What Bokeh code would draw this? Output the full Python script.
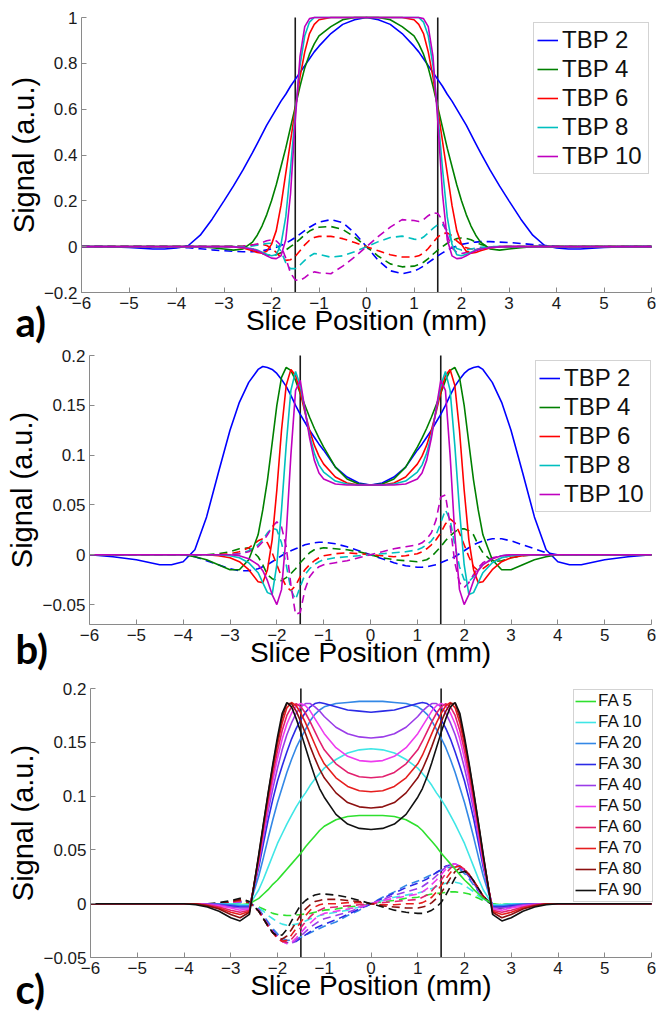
from bokeh.plotting import figure
from bokeh.models import Legend, LegendItem, FixedTicker, Label, Range1d
from bokeh.layouts import column
from bokeh.embed import file_html
from bokeh.resources import INLINE

# ---------------- data ----------------
slice_pos = [-6, -5.5, -5, -4.5, -4.25, -4, -3.75, -3.5, -3.25, -3, -2.8, -2.6, -2.4, -2.3, -2.2, -2.1, -2, -1.9, -1.8, -1.7,
             -1.6, -1.5, -1.4, -1.3, -1.2, -1.1, -1, -0.75, -0.5, -0.25,
             0,
             0.25, 0.5, 0.75, 1, 1.1, 1.2, 1.3, 1.4, 1.5, 1.6, 1.7, 1.8, 1.9, 2, 2.1, 2.2, 2.3, 2.4, 2.6,
             2.8, 3, 3.25, 3.5, 3.75, 4, 4.25, 4.5, 5, 5.5, 6]

x_ticks = [-6, -5, -4, -3, -2, -1, 0, 1, 2, 3, 4, 5, 6]
x_tick_labels = ["\u22126", "\u22125", "\u22124", "\u22123", "\u22122", "\u22121", "0", "1", "2", "3", "4", "5", "6"]
a_y_ticks = [-0.2, 0, 0.2, 0.4, 0.6, 0.8, 1]
a_y_tick_labels = ["\u22120.2", "0", "0.2", "0.4", "0.6", "0.8", "1"]
bc_y_ticks = [-0.05, 0, 0.05, 0.1, 0.15, 0.2]
bc_y_tick_labels = ["\u22120.05", "0", "0.05", "0.1", "0.15", "0.2"]
a_y_limits = [-0.2, 1.0]
b_y_limits = [-0.07, 0.2]
c_y_limits = [-0.05, 0.2]
slab_edges = [-1.5, 1.5]

tbp_names = ["TBP 2", "TBP 4", "TBP 6", "TBP 8", "TBP 10"]
fa_names = ["FA 5", "FA 10", "FA 20", "FA 30", "FA 40", "FA 50", "FA 60", "FA 70", "FA 80", "FA 90"]
panel_names = ["a)", "b)", "c)"]

# panel a : solid (real) and dashed (imaginary)
a_re_tbp2 = [0, 0, -0.003, -0.01, -0.01, -0.006, 0.005, 0.05, 0.12, 0.2, 0.265, 0.335, 0.41, 0.45, 0.49, 0.53, 0.565, 0.60, 0.635, 0.665, 0.70, 0.73, 0.76, 0.79, 0.82, 0.85, 0.875, 0.93, 0.97, 0.99,
             1.0,
             0.99, 0.97, 0.93, 0.875, 0.85, 0.82, 0.79, 0.76, 0.73, 0.70, 0.665, 0.635, 0.60, 0.565, 0.53, 0.49, 0.45, 0.41, 0.335, 0.265, 0.2, 0.12, 0.05, 0.005, -0.006, -0.01, -0.01, -0.003, 0, 0]
a_re_tbp4 = [0, 0, 0, 0, 0, 0, 0, 0, -0.005, -0.01, -0.015, -0.01, 0.02, 0.05, 0.09, 0.14, 0.2, 0.27, 0.35, 0.43, 0.52, 0.61, 0.70, 0.78, 0.84, 0.885, 0.92, 0.96, 0.99, 1.0,
             1.0,
             1.0, 0.99, 0.96, 0.92, 0.885, 0.84, 0.78, 0.70, 0.61, 0.52, 0.43, 0.35, 0.27, 0.2, 0.14, 0.09, 0.05, 0.02, -0.01, -0.015, -0.01, -0.005, 0, 0, 0, 0, 0, 0, 0, 0]
a_re_tbp6 = [0, 0, 0, 0, 0, 0, 0, 0, 0, 0, 0, -0.006, -0.018, -0.025, -0.028, -0.02, 0.01, 0.07, 0.18, 0.32, 0.46, 0.6, 0.74, 0.85, 0.93, 0.97, 0.99, 1.0, 1.0, 1.0,
             1.0,
             1.0, 1.0, 1.0, 0.99, 0.97, 0.93, 0.85, 0.74, 0.6, 0.46, 0.32, 0.18, 0.07, 0.01, -0.02, -0.028, -0.025, -0.018, -0.006, 0, 0, 0, 0, 0, 0, 0, 0, 0, 0, 0]
a_re_tbp8 = [0, 0, 0, 0, 0, 0, 0, 0, 0, 0, 0, -0.003, -0.009, -0.015, -0.024, -0.033, -0.04, -0.035, 0.01, 0.13, 0.34, 0.58, 0.79, 0.92, 0.98, 1.0, 1.0, 1.0, 1.0, 1.0,
             1.0,
             1.0, 1.0, 1.0, 1.0, 1.0, 0.98, 0.92, 0.79, 0.58, 0.34, 0.13, 0.01, -0.035, -0.04, -0.033, -0.024, -0.015, -0.009, -0.003, 0, 0, 0, 0, 0, 0, 0, 0, 0, 0, 0]
a_re_tbp10 = [0, 0, 0, 0, 0, 0, 0, 0, 0, 0, -0.001, -0.004, -0.011, -0.018, -0.028, -0.04, -0.05, -0.052, -0.04, 0.03, 0.23, 0.55, 0.83, 0.96, 0.995, 1.0, 1.0, 1.0, 1.0, 1.0,
              1.0,
              1.0, 1.0, 1.0, 1.0, 1.0, 0.995, 0.96, 0.83, 0.55, 0.23, 0.03, -0.04, -0.052, -0.05, -0.04, -0.028, -0.018, -0.011, -0.004, -0.001, 0, 0, 0, 0, 0, 0, 0, 0, 0, 0]

a_im_tbp2 = [0, 0, 0, 0, 0, -0.002, -0.005, -0.009, -0.014, -0.018, -0.02, -0.022, -0.022, -0.02, -0.018, -0.014, -0.01, -0.003, 0.005, 0.015, 0.027, 0.04, 0.055, 0.07, 0.085, 0.097, 0.107, 0.118, 0.105, 0.06,
             0,
             -0.06, -0.105, -0.118, -0.107, -0.097, -0.085, -0.07, -0.055, -0.04, -0.027, -0.015, -0.005, 0.003, 0.01, 0.014, 0.018, 0.02, 0.022, 0.022, 0.02, 0.018, 0.014, 0.009, 0.005, 0.002, 0, 0, 0, 0, 0]
a_im_tbp4 = [0, 0, 0, 0, 0, 0, 0, 0, 0, 0, 0.002, 0.0, -0.01, -0.02, -0.03, -0.036, -0.038, -0.035, -0.027, -0.015, 0.0, 0.015, 0.033, 0.052, 0.068, 0.078, 0.085, 0.088, 0.075, 0.042,
             0,
             -0.042, -0.075, -0.088, -0.085, -0.078, -0.068, -0.052, -0.033, -0.015, 0.0, 0.015, 0.027, 0.035, 0.038, 0.036, 0.03, 0.02, 0.01, 0.0, -0.002, 0, 0, 0, 0, 0, 0, 0, 0, 0, 0]
a_im_tbp6 = [0, 0, 0, 0, 0, 0, 0, 0, 0, 0, 0, 0.003, 0.008, 0.01, 0.01, 0.005, -0.008, -0.025, -0.048, -0.06, -0.057, -0.042, -0.018, 0.008, 0.028, 0.04, 0.045, 0.045, 0.035, 0.018,
             0,
             -0.018, -0.035, -0.045, -0.045, -0.04, -0.028, -0.008, 0.018, 0.042, 0.057, 0.06, 0.048, 0.025, 0.008, -0.005, -0.01, -0.01, -0.008, -0.003, 0, 0, 0, 0, 0, 0, 0, 0, 0, 0, 0]
a_im_tbp8 = [0, 0, 0, 0, 0, 0, 0, 0, 0, 0, 0, 0, 0.003, 0.006, 0.01, 0.014, 0.015, 0.008, -0.02, -0.07, -0.096, -0.096, -0.08, -0.06, -0.042, -0.03, -0.033, -0.046, -0.04, -0.022,
             0,
             0.022, 0.04, 0.046, 0.033, 0.03, 0.042, 0.06, 0.08, 0.096, 0.096, 0.07, 0.02, -0.008, -0.015, -0.014, -0.01, -0.006, -0.003, 0, 0, 0, 0, 0, 0, 0, 0, 0, 0, 0, 0]
a_im_tbp10 = [0, 0, 0, 0, 0, 0, 0, 0, 0, 0, 0, 0.002, 0.007, 0.012, 0.018, 0.026, 0.03, 0.025, 0.005, -0.05, -0.115, -0.145, -0.148, -0.135, -0.118, -0.11, -0.114, -0.118, -0.085, -0.045,
              0,
              0.045, 0.085, 0.118, 0.114, 0.11, 0.118, 0.135, 0.148, 0.145, 0.115, 0.05, -0.005, -0.025, -0.03, -0.026, -0.018, -0.012, -0.007, -0.002, 0, 0, 0, 0, 0, 0, 0, 0, 0, 0, 0]

# panel b
b_re_tbp2 = [0, -0.002, -0.005, -0.01, -0.01, -0.007, 0.005, 0.038, 0.082, 0.125, 0.153, 0.173, 0.186, 0.189, 0.188, 0.186, 0.182, 0.176, 0.169, 0.16, 0.15, 0.141, 0.133, 0.125, 0.118, 0.111, 0.105, 0.088, 0.078, 0.072,
             0.07,
             0.072, 0.078, 0.088, 0.105, 0.111, 0.118, 0.125, 0.133, 0.141, 0.15, 0.16, 0.169, 0.176, 0.182, 0.186, 0.188, 0.189, 0.186, 0.173, 0.153, 0.125, 0.082, 0.038, 0.005, -0.007, -0.01, -0.01, -0.005, -0.002, 0]
b_re_tbp4 = [0, 0, 0, 0, 0, 0, -0.002, -0.005, -0.01, -0.015, -0.015, -0.005, 0.02, 0.045, 0.075, 0.112, 0.15, 0.178, 0.188, 0.185, 0.175, 0.162, 0.15, 0.138, 0.127, 0.117, 0.108, 0.088, 0.076, 0.071,
             0.07,
             0.071, 0.076, 0.088, 0.108, 0.117, 0.127, 0.138, 0.15, 0.162, 0.175, 0.185, 0.188, 0.178, 0.15, 0.112, 0.075, 0.045, 0.02, -0.005, -0.015, -0.015, -0.01, -0.005, -0.002, 0, 0, 0, 0, 0, 0]
b_re_tbp6 = [0, 0, 0, 0, 0, 0, 0, 0, -0.001, -0.003, -0.007, -0.015, -0.027, -0.028, -0.015, 0.015, 0.065, 0.125, 0.17, 0.186, 0.18, 0.163, 0.143, 0.125, 0.11, 0.099, 0.091, 0.078, 0.072, 0.07,
             0.07,
             0.07, 0.072, 0.078, 0.091, 0.099, 0.11, 0.125, 0.143, 0.163, 0.18, 0.186, 0.17, 0.125, 0.065, 0.015, -0.015, -0.028, -0.027, -0.015, -0.007, -0.003, -0.001, 0, 0, 0, 0, 0, 0, 0, 0]
b_re_tbp8 = [0, 0, 0, 0, 0, 0, 0, 0, 0, -0.001, -0.003, -0.008, -0.018, -0.028, -0.038, -0.04, -0.01, 0.045, 0.11, 0.165, 0.184, 0.17, 0.145, 0.12, 0.102, 0.09, 0.083, 0.074, 0.071, 0.07,
             0.07,
             0.07, 0.071, 0.074, 0.083, 0.09, 0.102, 0.12, 0.145, 0.17, 0.184, 0.165, 0.11, 0.045, -0.01, -0.04, -0.038, -0.028, -0.018, -0.008, -0.003, -0.001, 0, 0, 0, 0, 0, 0, 0, 0, 0]
b_re_tbp10 = [0, 0, 0, 0, 0, 0, 0, 0, 0, 0, -0.001, -0.004, -0.01, -0.016, -0.026, -0.04, -0.05, -0.035, 0.02, 0.1, 0.165, 0.175, 0.146, 0.117, 0.095, 0.082, 0.076, 0.071, 0.07, 0.07,
              0.07,
              0.07, 0.07, 0.071, 0.076, 0.082, 0.095, 0.117, 0.146, 0.175, 0.165, 0.1, 0.02, -0.035, -0.05, -0.04, -0.026, -0.016, -0.01, -0.004, -0.001, 0, 0, 0, 0, 0, 0, 0, 0, 0, 0]

b_im_tbp2 = [0, 0, 0, 0, 0, 0, -0.002, -0.006, -0.01, -0.014, -0.016, -0.016, -0.014, -0.012, -0.01, -0.007, -0.004, -0.001, 0.002, 0.004, 0.006, 0.008, 0.01, 0.011, 0.012, 0.0125, 0.0125, 0.011, 0.008, 0.004,
             0,
             -0.004, -0.008, -0.011, -0.0125, -0.0125, -0.012, -0.011, -0.01, -0.008, -0.006, -0.004, -0.002, 0.001, 0.004, 0.007, 0.01, 0.012, 0.014, 0.016, 0.016, 0.014, 0.01, 0.006, 0.002, 0, 0, 0, 0, 0, 0]
b_im_tbp4 = [0, 0, 0, 0, 0, 0, 0, 0, 0.001, 0.003, 0.006, 0.007, -0.002, -0.01, -0.02, -0.024, -0.026, -0.026, -0.023, -0.019, -0.014, -0.008, -0.003, 0.002, 0.005, 0.006, 0.007, 0.006, 0.005, 0.003,
             0,
             -0.003, -0.005, -0.006, -0.007, -0.006, -0.005, -0.002, 0.003, 0.008, 0.014, 0.019, 0.023, 0.026, 0.026, 0.024, 0.02, 0.01, 0.002, -0.007, -0.006, -0.003, -0.001, 0, 0, 0, 0, 0, 0, 0, 0]
b_im_tbp6 = [0, 0, 0, 0, 0, 0, 0, 0, 0, 0.001, 0.003, 0.007, 0.014, 0.016, 0.012, 0.002, -0.01, -0.022, -0.032, -0.036, -0.031, -0.022, -0.015, -0.01, -0.006, -0.003, -0.001, 0.001, 0.002, 0.001,
             0,
             -0.001, -0.002, -0.001, 0.001, 0.003, 0.006, 0.01, 0.015, 0.022, 0.031, 0.036, 0.032, 0.022, 0.01, -0.002, -0.012, -0.016, -0.014, -0.007, -0.003, -0.001, 0, 0, 0, 0, 0, 0, 0, 0, 0]
b_im_tbp8 = [0, 0, 0, 0, 0, 0, 0, 0, 0, 0, 0.001, 0.004, 0.01, 0.015, 0.022, 0.027, 0.025, 0.012, -0.01, -0.035, -0.045, -0.032, -0.02, -0.014, -0.01, -0.007, -0.005, -0.003, -0.002, -0.001,
             0,
             0.001, 0.002, 0.003, 0.005, 0.007, 0.01, 0.014, 0.02, 0.032, 0.045, 0.035, 0.01, -0.012, -0.025, -0.027, -0.022, -0.015, -0.01, -0.004, -0.001, 0, 0, 0, 0, 0, 0, 0, 0, 0, 0]
b_im_tbp10 = [0, 0, 0, 0, 0, 0, 0, 0, 0, 0, 0.001, 0.003, 0.008, 0.013, 0.02, 0.028, 0.033, 0.028, 0.008, -0.03, -0.06, -0.058, -0.035, -0.022, -0.016, -0.012, -0.01, -0.008, -0.006, -0.003,
              0,
              0.003, 0.006, 0.008, 0.01, 0.012, 0.016, 0.022, 0.035, 0.058, 0.06, 0.03, -0.008, -0.028, -0.033, -0.028, -0.02, -0.013, -0.008, -0.003, -0.001, 0, 0, 0, 0, 0, 0, 0, 0, 0, 0]

# panel c
c_re_fa5 = [0, 0, 0, 0, 0, 0, 0, 0, 0, 0, -0.001, 0.0, 0.005, 0.009, 0.013, 0.018, 0.022, 0.027, 0.032, 0.037, 0.042, 0.047, 0.053, 0.058, 0.063, 0.068, 0.072, 0.078, 0.081, 0.082,
            0.082,
            0.082, 0.081, 0.078, 0.072, 0.068, 0.063, 0.058, 0.053, 0.047, 0.042, 0.037, 0.032, 0.027, 0.022, 0.018, 0.013, 0.009, 0.005, 0.0, -0.001, 0, 0, 0, 0, 0, 0, 0, 0, 0, 0]
c_re_fa10 = [0, 0, 0, 0, 0, 0, 0, 0, 0, 0, -0.001, -0.001, 0.013, 0.023, 0.034, 0.045, 0.056, 0.065, 0.074, 0.082, 0.09, 0.097, 0.103, 0.11, 0.116, 0.121, 0.126, 0.134, 0.14, 0.143,
             0.144,
             0.143, 0.14, 0.134, 0.126, 0.121, 0.116, 0.11, 0.103, 0.097, 0.09, 0.082, 0.074, 0.065, 0.056, 0.045, 0.034, 0.023, 0.013, -0.001, -0.001, 0, 0, 0, 0, 0, 0, 0, 0, 0, 0]
c_re_fa20 = [0, 0, 0, 0, 0, 0, 0, 0, 0, -0.001, -0.002, -0.002, 0.026, 0.043, 0.061, 0.078, 0.094, 0.108, 0.122, 0.134, 0.145, 0.154, 0.162, 0.17, 0.176, 0.18, 0.183, 0.186, 0.187, 0.188,
             0.188,
             0.188, 0.187, 0.186, 0.183, 0.18, 0.176, 0.17, 0.162, 0.154, 0.145, 0.134, 0.122, 0.108, 0.094, 0.078, 0.061, 0.043, 0.026, -0.002, -0.002, -0.001, 0, 0, 0, 0, 0, 0, 0, 0, 0]
c_re_fa30 = [0, 0, 0, 0, 0, 0, 0, 0, -0.001, -0.002, -0.003, -0.003, 0.034, 0.056, 0.078, 0.097, 0.114, 0.128, 0.141, 0.153, 0.163, 0.171, 0.178, 0.183, 0.186, 0.187, 0.186, 0.183, 0.18, 0.179,
             0.178,
             0.179, 0.18, 0.183, 0.186, 0.187, 0.186, 0.183, 0.178, 0.171, 0.163, 0.153, 0.141, 0.128, 0.114, 0.097, 0.078, 0.056, 0.034, -0.003, -0.003, -0.002, -0.001, 0, 0, 0, 0, 0, 0, 0, 0]
c_re_fa40 = [0, 0, 0, 0, 0, 0, 0, 0, -0.001, -0.003, -0.004, -0.004, 0.037, 0.062, 0.086, 0.107, 0.126, 0.143, 0.157, 0.168, 0.177, 0.183, 0.186, 0.186, 0.183, 0.179, 0.174, 0.164, 0.158, 0.155,
             0.154,
             0.155, 0.158, 0.164, 0.174, 0.179, 0.183, 0.186, 0.186, 0.183, 0.177, 0.168, 0.157, 0.143, 0.126, 0.107, 0.086, 0.062, 0.037, -0.004, -0.004, -0.003, -0.001, 0, 0, 0, 0, 0, 0, 0, 0]
c_re_fa50 = [0, 0, 0, 0, 0, 0, 0, -0.001, -0.002, -0.004, -0.006, -0.005, 0.039, 0.066, 0.091, 0.114, 0.135, 0.153, 0.167, 0.177, 0.184, 0.186, 0.184, 0.179, 0.172, 0.165, 0.158, 0.145, 0.137, 0.133,
             0.132,
             0.133, 0.137, 0.145, 0.158, 0.165, 0.172, 0.179, 0.184, 0.186, 0.184, 0.177, 0.167, 0.153, 0.135, 0.114, 0.091, 0.066, 0.039, -0.005, -0.006, -0.004, -0.002, -0.001, 0, 0, 0, 0, 0, 0, 0]
c_re_fa60 = [0, 0, 0, 0, 0, 0, 0, -0.001, -0.003, -0.006, -0.008, -0.006, 0.041, 0.069, 0.095, 0.12, 0.142, 0.161, 0.175, 0.183, 0.186, 0.183, 0.177, 0.169, 0.16, 0.151, 0.143, 0.13, 0.122, 0.118,
             0.117,
             0.118, 0.122, 0.13, 0.143, 0.151, 0.16, 0.169, 0.177, 0.183, 0.186, 0.183, 0.175, 0.161, 0.142, 0.12, 0.095, 0.069, 0.041, -0.006, -0.008, -0.006, -0.003, -0.001, 0, 0, 0, 0, 0, 0, 0]
c_re_fa70 = [0, 0, 0, 0, 0, 0, 0, -0.002, -0.004, -0.008, -0.01, -0.007, 0.043, 0.072, 0.099, 0.125, 0.148, 0.168, 0.182, 0.187, 0.184, 0.177, 0.168, 0.158, 0.148, 0.138, 0.13, 0.117, 0.109, 0.105,
             0.104,
             0.105, 0.109, 0.117, 0.13, 0.138, 0.148, 0.158, 0.168, 0.177, 0.184, 0.187, 0.182, 0.168, 0.148, 0.125, 0.099, 0.072, 0.043, -0.007, -0.01, -0.008, -0.004, -0.002, 0, 0, 0, 0, 0, 0, 0]
c_re_fa80 = [0, 0, 0, 0, 0, 0, 0, -0.002, -0.005, -0.01, -0.013, -0.008, 0.045, 0.074, 0.102, 0.128, 0.152, 0.173, 0.186, 0.186, 0.179, 0.169, 0.158, 0.146, 0.135, 0.125, 0.117, 0.103, 0.094, 0.09,
             0.089,
             0.09, 0.094, 0.103, 0.117, 0.125, 0.135, 0.146, 0.158, 0.169, 0.179, 0.186, 0.186, 0.173, 0.152, 0.128, 0.102, 0.074, 0.045, -0.008, -0.013, -0.01, -0.005, -0.002, 0, 0, 0, 0, 0, 0, 0]
c_re_fa90 = [0, 0, 0, 0, 0, 0, -0.001, -0.003, -0.007, -0.013, -0.016, -0.01, 0.046, 0.075, 0.103, 0.13, 0.155, 0.177, 0.187, 0.183, 0.172, 0.159, 0.145, 0.131, 0.118, 0.107, 0.099, 0.083, 0.074, 0.07,
             0.069,
             0.07, 0.074, 0.083, 0.099, 0.107, 0.118, 0.131, 0.145, 0.159, 0.172, 0.183, 0.187, 0.177, 0.155, 0.13, 0.103, 0.075, 0.046, -0.01, -0.016, -0.013, -0.007, -0.003, -0.001, 0, 0, 0, 0, 0, 0]

c_im_fa5 = [0, 0, 0, 0, 0, 0, 0, 0, 0, 0, 0.001, 0.0, -0.003, -0.005, -0.007, -0.009, -0.01, -0.0105, -0.011, -0.011, -0.0105, -0.01, -0.0095, -0.009, -0.008, -0.007, -0.006, -0.005, -0.003, -0.002,
            0,
            0.002, 0.003, 0.005, 0.006, 0.007, 0.008, 0.009, 0.0095, 0.01, 0.0105, 0.011, 0.011, 0.0105, 0.01, 0.009, 0.007, 0.005, 0.003, 0.0, -0.001, 0, 0, 0, 0, 0, 0, 0, 0, 0, 0]
c_im_fa10 = [0, 0, 0, 0, 0, 0, 0, 0, 0, 0, 0.001, 0.0, -0.004, -0.007, -0.011, -0.014, -0.017, -0.019, -0.02, -0.02, -0.019, -0.018, -0.016, -0.014, -0.013, -0.011, -0.01, -0.008, -0.006, -0.003,
             0,
             0.003, 0.006, 0.008, 0.01, 0.011, 0.013, 0.014, 0.016, 0.018, 0.019, 0.02, 0.02, 0.019, 0.017, 0.014, 0.011, 0.007, 0.004, 0.0, -0.001, 0, 0, 0, 0, 0, 0, 0, 0, 0, 0]
c_im_fa20 = [0, 0, 0, 0, 0, 0, 0, 0, 0, 0.001, 0.002, 0.001, -0.005, -0.011, -0.017, -0.023, -0.028, -0.032, -0.034, -0.034, -0.033, -0.031, -0.029, -0.027, -0.025, -0.023, -0.021, -0.017, -0.011, -0.006,
             0,
             0.006, 0.011, 0.017, 0.021, 0.023, 0.025, 0.027, 0.029, 0.031, 0.033, 0.034, 0.034, 0.032, 0.028, 0.023, 0.017, 0.011, 0.005, -0.001, -0.002, -0.001, 0, 0, 0, 0, 0, 0, 0, 0, 0]
c_im_fa30 = [0, 0, 0, 0, 0, 0, 0, 0, 0, 0.001, 0.002, 0.001, -0.006, -0.012, -0.019, -0.025, -0.03, -0.034, -0.036, -0.036, -0.035, -0.032, -0.029, -0.026, -0.023, -0.021, -0.019, -0.015, -0.01, -0.005,
             0,
             0.005, 0.01, 0.015, 0.019, 0.021, 0.023, 0.026, 0.029, 0.032, 0.035, 0.036, 0.036, 0.034, 0.03, 0.025, 0.019, 0.012, 0.006, -0.001, -0.002, -0.001, 0, 0, 0, 0, 0, 0, 0, 0, 0]
c_im_fa40 = [0, 0, 0, 0, 0, 0, 0, 0, 0, 0.001, 0.002, 0.001, -0.006, -0.013, -0.02, -0.026, -0.031, -0.035, -0.037, -0.037, -0.034, -0.03, -0.026, -0.022, -0.019, -0.016, -0.014, -0.011, -0.008, -0.004,
             0,
             0.004, 0.008, 0.011, 0.014, 0.016, 0.019, 0.022, 0.026, 0.03, 0.034, 0.037, 0.037, 0.035, 0.031, 0.026, 0.02, 0.013, 0.006, -0.001, -0.002, -0.001, 0, 0, 0, 0, 0, 0, 0, 0, 0]
c_im_fa50 = [0, 0, 0, 0, 0, 0, 0, 0, 0, 0.001, 0.002, 0.001, -0.006, -0.013, -0.02, -0.026, -0.031, -0.035, -0.037, -0.036, -0.032, -0.027, -0.022, -0.018, -0.014, -0.011, -0.009, -0.007, -0.005, -0.003,
             0,
             0.003, 0.005, 0.007, 0.009, 0.011, 0.014, 0.018, 0.022, 0.027, 0.032, 0.036, 0.037, 0.035, 0.031, 0.026, 0.02, 0.013, 0.006, -0.001, -0.002, -0.001, 0, 0, 0, 0, 0, 0, 0, 0, 0]
c_im_fa60 = [0, 0, 0, 0, 0, 0, 0, 0, 0, 0.001, 0.003, 0.001, -0.007, -0.014, -0.021, -0.027, -0.032, -0.035, -0.036, -0.033, -0.028, -0.022, -0.017, -0.012, -0.008, -0.006, -0.004, -0.003, -0.002, -0.001,
             0,
             0.001, 0.002, 0.003, 0.004, 0.006, 0.008, 0.012, 0.017, 0.022, 0.028, 0.033, 0.036, 0.035, 0.032, 0.027, 0.021, 0.014, 0.007, -0.001, -0.003, -0.001, 0, 0, 0, 0, 0, 0, 0, 0, 0]
c_im_fa70 = [0, 0, 0, 0, 0, 0, 0, 0, 0, 0.002, 0.003, 0.001, -0.007, -0.014, -0.021, -0.027, -0.032, -0.035, -0.034, -0.029, -0.023, -0.017, -0.011, -0.006, -0.003, -0.001, 0.0, 0.0, 0.001, 0.001,
             0,
             -0.001, -0.001, 0.0, 0.0, 0.001, 0.003, 0.006, 0.011, 0.017, 0.023, 0.029, 0.034, 0.035, 0.032, 0.027, 0.021, 0.014, 0.007, -0.001, -0.003, -0.002, 0, 0, 0, 0, 0, 0, 0, 0, 0]
c_im_fa80 = [0, 0, 0, 0, 0, 0, 0, 0, 0, 0.002, 0.004, 0.001, -0.007, -0.014, -0.021, -0.027, -0.031, -0.033, -0.03, -0.024, -0.017, -0.01, -0.005, -0.001, 0.002, 0.003, 0.004, 0.004, 0.003, 0.002,
             0,
             -0.002, -0.003, -0.004, -0.004, -0.003, -0.002, 0.001, 0.005, 0.01, 0.017, 0.024, 0.03, 0.033, 0.031, 0.027, 0.021, 0.014, 0.007, -0.001, -0.004, -0.002, 0, 0, 0, 0, 0, 0, 0, 0, 0]
c_im_fa90 = [0, 0, 0, 0, 0, 0, 0, 0, 0.001, 0.003, 0.005, 0.002, -0.007, -0.014, -0.021, -0.027, -0.03, -0.029, -0.024, -0.016, -0.008, -0.001, 0.003, 0.006, 0.008, 0.009, 0.009, 0.008, 0.006, 0.003,
             0,
             -0.003, -0.006, -0.008, -0.009, -0.009, -0.008, -0.006, -0.003, 0.001, 0.008, 0.016, 0.024, 0.029, 0.03, 0.027, 0.021, 0.014, 0.007, -0.002, -0.005, -0.003, -0.001, 0, 0, 0, 0, 0, 0, 0, 0]

a_solid = [a_re_tbp2, a_re_tbp4, a_re_tbp6, a_re_tbp8, a_re_tbp10]
a_dashed = [a_im_tbp2, a_im_tbp4, a_im_tbp6, a_im_tbp8, a_im_tbp10]
b_solid = [b_re_tbp2, b_re_tbp4, b_re_tbp6, b_re_tbp8, b_re_tbp10]
b_dashed = [b_im_tbp2, b_im_tbp4, b_im_tbp6, b_im_tbp8, b_im_tbp10]
c_solid = [c_re_fa5, c_re_fa10, c_re_fa20, c_re_fa30, c_re_fa40, c_re_fa50, c_re_fa60, c_re_fa70, c_re_fa80, c_re_fa90]
c_dashed = [c_im_fa5, c_im_fa10, c_im_fa20, c_im_fa30, c_im_fa40, c_im_fa50, c_im_fa60, c_im_fa70, c_im_fa80, c_im_fa90]

for group in (a_solid, a_dashed, b_solid, b_dashed, c_solid, c_dashed):
    for ys in group:
        assert len(ys) == len(slice_pos), len(ys)

# ---------------- style ----------------
tbp_colors = ["#0000ff", "#008000", "#ff0000", "#00bfbf", "#bf00bf"]
fa_colors = ["#2ee02e", "#3fe6e6", "#3388e6", "#2b2be6", "#9a3ce8", "#ee3cee", "#e2206e", "#e61e1e", "#8c1010", "#111111"]
FONT = "Liberation Sans"
AX_GRAY = "#8a8a8a"
W = 656


def make_fig(height, frame_left, frame_right, frame_top, frame_bottom, ylim, yticks, ylabels):
    """Frame covers the whole canvas; the axes are pinned at the data edges so that
    the panel letter (drawn inside the frame) is never clipped."""
    x0, x1 = x_ticks[0], x_ticks[-1]
    y0, y1 = ylim
    xpu = (frame_right - frame_left) / (x1 - x0)
    ypu = (frame_bottom - frame_top) / (y1 - y0)
    p = figure(width=W, height=height,
               x_range=Range1d(x0 - frame_left / xpu, x1 + (W - frame_right) / xpu),
               y_range=Range1d(y0 - (height - frame_bottom) / ypu, y1 + frame_top / ypu),
               output_backend="svg", toolbar_location=None, min_border=0,
               x_axis_label="Slice Position (mm)", y_axis_label="Signal (a.u.)")
    p.outline_line_color = None
    p.grid.visible = False
    p.background_fill_color = "white"
    p.border_fill_color = "white"
    for ax in (p.xaxis[0], p.yaxis[0]):
        ax.axis_line_color = AX_GRAY
        ax.major_tick_line_color = AX_GRAY
        ax.major_tick_in = 5
        ax.major_tick_out = 0
        ax.minor_tick_line_color = None
        ax.major_label_text_font = FONT
        ax.major_label_text_font_size = "17px"
        ax.major_label_text_color = "#1a1a1a"
        ax.axis_label_text_font = FONT
        ax.axis_label_text_font_style = "normal"
        ax.axis_label_text_color = "#000000"
        ax.major_label_standoff = 4
    xa, ya = p.xaxis[0], p.yaxis[0]
    xa.fixed_location = y0
    xa.bounds = (x0, x1)
    xa.ticker = FixedTicker(ticks=x_ticks)
    xa.major_label_overrides = dict(zip(x_ticks, x_tick_labels))
    xa.axis_label_text_font_size = "28px"
    xa.axis_label_standoff = -7
    ya.fixed_location = x0
    ya.bounds = (y0, y1)
    ya.ticker = FixedTicker(ticks=yticks)
    ya.major_label_overrides = dict(zip(yticks, ylabels))
    ya.axis_label_text_font_size = "29px"
    ya.axis_label_standoff = 1
    p.segment(x0=slab_edges, y0=[y0] * len(slab_edges), x1=slab_edges, y1=[y1] * len(slab_edges),
              line_color="#1a1a1a", line_width=1.6)
    return p


def draw(p, solid, dashed, colors, names):
    for ys, c in zip(dashed, colors):
        p.line(slice_pos, ys, line_color=c, line_width=1.6, line_dash="8 5")
    items = []
    for ys, c, n in zip(solid, colors, names):
        r = p.line(slice_pos, ys, line_color=c, line_width=1.6)
        items.append(LegendItem(label=n, renderers=[r]))
    return items


def add_legend(p, items, loc, fsize, gw, gh, lw, standoff, pad, spacing):
    leg = Legend(items=items, location=loc, label_text_font=FONT, label_text_font_size=fsize,
                 label_text_color="#111111", glyph_width=gw, glyph_height=gh, label_height=gh,
                 label_width=lw, label_standoff=standoff, padding=pad, spacing=spacing, margin=0,
                 border_line_color="#a8a8a8", border_line_width=1, background_fill_color="white",
                 background_fill_alpha=1.0)
    p.add_layout(leg)


def panel_label(p, text, sx, sy):
    p.add_layout(Label(x=sx, y=sy, x_units="screen", y_units="screen", text=text,
                       text_font="Lato", text_font_style="bold", text_font_size="40px",
                       text_color="#000000", text_baseline="bottom", text_align="left"))


# panel a : canvas y 0..345
pa = make_fig(345, 81, 651, 17, 292, a_y_limits, a_y_ticks, a_y_tick_labels)
items_a = draw(pa, a_solid, a_dashed, tbp_colors, tbp_names)
add_legend(pa, items_a, (533, 171), "24px", 21, 28, 83, 4, 3, 1)
panel_label(pa, panel_names[0], 15, 0)

# panel b : canvas y 345..678
pb = make_fig(333, 89, 651, 10, 279, b_y_limits, bc_y_ticks, bc_y_tick_labels)
items_b = draw(pb, b_solid, b_dashed, tbp_colors, tbp_names)
add_legend(pb, items_b, (535, 166), "24px", 21, 28, 83, 4, 3, 1)
panel_label(pb, panel_names[1], 15, 6)

# panel c : canvas y 678..1012
pc = make_fig(334, 90, 651, 10, 279, c_y_limits, bc_y_ticks, bc_y_tick_labels)
items_c = draw(pc, c_solid, c_dashed, fa_colors, fa_names)
add_legend(pc, items_c, (573, 110), "17px", 21, 20, 53, 2, 1, 1)
panel_label(pc, panel_names[2], 15, 0)

layout = column(pa, pb, pc, spacing=0)
open("out.html", "w").write(file_html(layout, INLINE))
